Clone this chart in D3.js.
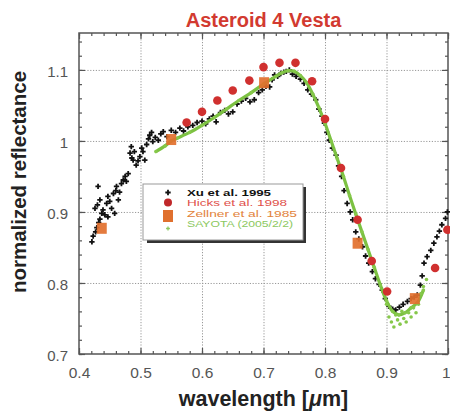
<!DOCTYPE html>
<html><head><meta charset="utf-8">
<script src="https://cdn.jsdelivr.net/npm/d3@7"></script>
<style>
body{margin:0;background:#fff;}
svg{display:block;font-family:"Liberation Sans",Arial,sans-serif;}
</style></head>
<body><svg id="c" width="450" height="411"></svg>
<script>
const xTicks = [0.4,0.5,0.6,0.7,0.8,0.9,1.0];
const xTickLabels = ["0.4","0.5","0.6","0.7","0.8","0.9","1"];
const yTicks = [0.7,0.8,0.9,1.0,1.1];
const yTickLabels = ["0.7","0.8","0.9","1","1.1"];
const legendLabels = ["Xu et al. 1995","Hicks et al. 1998","Zellner et al. 1985","SAYOTA (2005/2/2)"];

const xuData = [[0.421,0.858],[0.423,0.866],[0.427,0.872],[0.429,0.878],[0.432,0.885],[0.434,0.890],[0.426,0.905],[0.430,0.910],[0.434,0.917],[0.431,0.936],[0.437,0.898],[0.439,0.903],[0.442,0.896],[0.445,0.912],[0.447,0.922],[0.447,0.893],[0.450,0.915],[0.453,0.905],[0.456,0.926],[0.458,0.898],[0.460,0.930],[0.461,0.936],[0.464,0.917],[0.466,0.928],[0.469,0.940],[0.472,0.945],[0.475,0.950],[0.477,0.943],[0.480,0.954],[0.483,0.983],[0.485,0.992],[0.486,0.976],[0.488,0.973],[0.490,0.985],[0.493,0.966],[0.496,0.972],[0.499,0.978],[0.502,0.990],[0.504,0.985],[0.507,0.973],[0.510,0.995],[0.513,1.003],[0.515,1.008],[0.518,1.012],[0.520,0.999],[0.524,1.005],[0.529,1.001],
[0.533,1.010],[0.537,1.013],[0.543,1.006],[0.550,1.015],[0.557,1.012],[0.564,1.018],[0.570,1.014],[0.577,1.020],[0.585,1.022],[0.592,1.026],[0.600,1.028],[0.606,1.024],[0.612,1.031],[0.618,1.035],[0.623,1.027],[0.630,1.040],[0.637,1.043],[0.643,1.038],[0.650,1.041],[0.657,1.052],[0.664,1.056],[0.671,1.060],[0.678,1.055],[0.685,1.058],[0.692,1.068],[0.698,1.072],[0.704,1.077],[0.710,1.076],[0.714,1.086],[0.718,1.093],[0.723,1.091],[0.728,1.095],[0.733,1.097],[0.737,1.098],[0.742,1.100],[0.747,1.094],[0.753,1.091],[0.760,1.087],[0.766,1.081],[0.772,1.072],[0.778,1.066],[0.785,1.058],[0.790,1.045],[0.795,1.035],[0.799,1.025],[0.803,1.012],[0.807,1.001],[0.812,0.990],[0.818,0.980],[0.822,0.965],[0.827,0.950],[0.831,0.930],[0.836,0.912],[0.841,0.900],[0.845,0.889],[0.850,0.872],[0.855,0.862],[0.861,0.851],[0.866,0.838],[0.871,0.828],[0.877,0.816],[0.882,0.806],[0.888,0.798],[0.893,0.790],[0.898,0.778],[0.904,0.767],[0.910,0.763],[0.915,0.762],[0.921,0.766],[0.927,0.770],[0.934,0.774],[0.940,0.778],[0.945,0.780],[0.950,0.783],[0.955,0.797],[0.958,0.810],[0.961,0.828],[0.966,0.837],[0.972,0.846],[0.977,0.856],[0.982,0.865],[0.986,0.873],[0.990,0.882],[0.996,0.891],[0.999,0.900]];

const hicksData = [[0.575,1.026],[0.600,1.041],[0.625,1.057],[0.650,1.071],[0.677,1.085],[0.700,1.104],[0.726,1.110],[0.752,1.110],[0.779,1.084],[0.800,1.031],[0.826,0.962],[0.853,0.889],[0.876,0.831],[0.901,0.788],[0.979,0.821],[0.999,0.875]];

const zellnerData = [[0.437,0.877],[0.550,1.002],[0.701,1.082],[0.853,0.856],[0.946,0.778]];

const sayotaLine = [[0.525,0.985],[0.54,0.993],[0.55,1.000],[0.56,1.004],[0.58,1.012],[0.60,1.022],[0.62,1.033],[0.64,1.045],[0.66,1.057],[0.68,1.068],[0.70,1.080],[0.72,1.091],[0.73,1.096],[0.74,1.099],[0.75,1.098],[0.76,1.092],[0.77,1.082],[0.78,1.066],[0.79,1.047],[0.80,1.025],[0.81,1.000],[0.82,0.975],[0.83,0.950],[0.84,0.923],[0.85,0.897],[0.86,0.872],[0.87,0.847],[0.88,0.822],[0.89,0.797],[0.90,0.775],[0.91,0.760],[0.92,0.755],[0.93,0.758],[0.94,0.765],[0.95,0.772],[0.96,0.790]];
const sayotaScatter = [[0.900,0.770],[0.904,0.752],[0.908,0.745],[0.912,0.738],[0.915,0.755],[0.918,0.748],[0.922,0.742],[0.925,0.760],[0.928,0.750],[0.932,0.745],[0.936,0.758],[0.940,0.752],[0.944,0.765],[0.948,0.758],[0.952,0.770],[0.956,0.785],[0.960,0.795],[0.965,0.805]];

const W=450,H=411;
const m={l:79,r:2,t:33,b:57};
const svg=d3.select("#c");
const x=d3.scaleLinear().domain([0.4,1.0]).range([m.l,W-m.r]);
const y=d3.scaleLinear().domain([0.7,1.152]).range([H-m.b,m.t]);
const iw=W-m.r-m.l, ih=H-m.b-m.t;
const xMinor=d3.range(0.40,1.0001,0.02);
const yMinor=d3.range(0.70,1.1501,0.02);

// grid
svg.append("g").attr("transform",`translate(0,${H-m.b})`)
 .call(d3.axisBottom(x).tickValues(xTicks.slice(1,-1)).tickSize(-ih).tickFormat(""))
 .call(g=>{g.select(".domain").remove();g.selectAll("line").attr("stroke","#999").attr("stroke-dasharray","1.2,1.6");});
svg.append("g").attr("transform",`translate(${m.l},0)`)
 .call(d3.axisLeft(y).tickValues(yTicks.slice(1)).tickSize(-iw).tickFormat(""))
 .call(g=>{g.select(".domain").remove();g.selectAll("line").attr("stroke","#999").attr("stroke-dasharray","1.2,1.6");});

function ticks(axisFn, pos, vals, size){
  const g=svg.append("g").attr("transform",pos)
   .call(axisFn.tickValues(vals).tickSize(size).tickFormat(""));
  g.select(".domain").remove();
  g.selectAll("line").attr("stroke","#555").attr("stroke-width",1.2);
}
ticks(d3.axisBottom(x),`translate(0,${H-m.b})`,xMinor,-3);
ticks(d3.axisBottom(x),`translate(0,${H-m.b})`,xTicks,-6);
ticks(d3.axisTop(x),`translate(0,${m.t})`,xMinor,-3);
ticks(d3.axisTop(x),`translate(0,${m.t})`,xTicks,-6);
ticks(d3.axisLeft(y),`translate(${m.l},0)`,yMinor,-3);
ticks(d3.axisLeft(y),`translate(${m.l},0)`,yTicks,-6);
ticks(d3.axisRight(y),`translate(${W-m.r},0)`,yMinor,-3);
ticks(d3.axisRight(y),`translate(${W-m.r},0)`,yTicks,-6);

// tick labels
const xl=svg.append("g").attr("transform",`translate(0,${H-m.b})`)
 .call(d3.axisBottom(x).tickValues(xTicks).tickSize(0).tickFormat((d,i)=>xTickLabels[i]));
xl.select(".domain").remove();
xl.selectAll("text").attr("font-size",15.5).attr("fill","#555").attr("y",23.5).attr("dy",0)
 .attr("font-family","Liberation Sans, Arial, sans-serif")
 .attr("text-anchor",(d,i)=>i===xTicks.length-1?"end":"middle")
 .attr("dx",(d,i)=>i===xTicks.length-1?2:0);
const yl=svg.append("g").attr("transform",`translate(${m.l},0)`)
 .call(d3.axisLeft(y).tickValues(yTicks).tickSize(0).tickPadding(11).tickFormat((d,i)=>yTickLabels[i]));
yl.select(".domain").remove();
yl.selectAll("text").attr("font-size",15).attr("fill","#555").attr("dy","0.45em")
 .attr("font-family","Liberation Sans, Arial, sans-serif");

// frame
svg.append("rect").attr("x",m.l).attr("y",m.t).attr("width",iw).attr("height",ih)
 .attr("fill","none").attr("stroke","#555").attr("stroke-width",1.5);

// Xu
svg.append("g").selectAll("path").data(xuData).join("path")
 .attr("transform",d=>`translate(${x(d[0])},${y(d[1])})`)
 .attr("d",d3.symbol(d3.symbolCross,16)).attr("fill","#111");

// SAYOTA
svg.append("path").datum(sayotaLine)
 .attr("d",d3.line().x(d=>x(d[0])).y(d=>y(d[1])).curve(d3.curveCatmullRom))
 .attr("fill","none").attr("stroke","#7cc142").attr("stroke-width",3.2);
svg.append("g").selectAll("circle").data(sayotaLine.concat(sayotaScatter)).join("circle")
 .attr("cx",d=>x(d[0])).attr("cy",d=>y(d[1])).attr("r",1.8).attr("fill","#86c84a");

// Zellner
svg.append("g").selectAll("rect").data(zellnerData).join("rect")
 .attr("x",d=>x(d[0])-5).attr("y",d=>y(d[1])-5.5).attr("width",10).attr("height",11)
 .attr("fill","#e2702e").attr("opacity",0.92);

// Hicks
svg.append("g").selectAll("circle").data(hicksData).join("circle")
 .attr("cx",d=>x(d[0])).attr("cy",d=>y(d[1])).attr("r",4.3).attr("fill","#d0302f");

// legend
const lg=svg.append("g");
lg.append("rect").attr("x",147).attr("y",187).attr("width",159).attr("height",56).attr("fill","#333");
lg.append("rect").attr("x",143).attr("y",184).attr("width",160).attr("height",56).attr("fill","#fff").attr("stroke","#999").attr("stroke-width",1);
const ly=[192.5,202.5,213,223.5];
const lw=[84,100,110,106];
const lcol=["#111","#e0504a","#e2823a","#8cc860"];
lg.append("path").attr("transform",`translate(168,${ly[0]})`).attr("d",d3.symbol(d3.symbolCross,16)).attr("fill","#111");
lg.append("circle").attr("cx",168).attr("cy",ly[1]).attr("r",4).attr("fill","#c0282a");
lg.append("rect").attr("x",163).attr("y",ly[2]-3).attr("width",10).attr("height",12).attr("fill","#e0702e");
lg.append("path").attr("transform",`translate(168,${ly[3]+5})`).attr("d",d3.symbol(d3.symbolCross,8)).attr("fill","#8cc860");
lg.selectAll("text").data(legendLabels).join("text")
 .attr("x",187).attr("y",(d,i)=>ly[i]+3.5).attr("font-size",9.5).attr("fill",(d,i)=>lcol[i])
 .attr("textLength",(d,i)=>lw[i]).attr("lengthAdjust","spacingAndGlyphs")
 .attr("font-weight",(d,i)=>i===0?"bold":"normal").text(d=>d);

// title
svg.append("text").attr("x",(m.l+W-m.r)/2).attr("y",27).attr("text-anchor","middle")
 .attr("font-size",20).attr("font-weight","bold").attr("fill","#d23a30").text("Asteroid 4 Vesta");
// axis titles
const xt=svg.append("text").attr("x",(m.l+W-m.r)/2).attr("y",406).attr("text-anchor","middle")
 .attr("font-size",21.5).attr("font-weight","bold").attr("fill","#222");
xt.append("tspan").text("wavelength [");
xt.append("tspan").attr("font-style","italic").text("μ");
xt.append("tspan").text("m]");
svg.append("text").attr("transform","translate(26,182) rotate(-90)").attr("text-anchor","middle")
 .attr("font-size",20.5).attr("font-weight","bold").attr("fill","#222").text("normalized reflectance");
</script></body></html>
